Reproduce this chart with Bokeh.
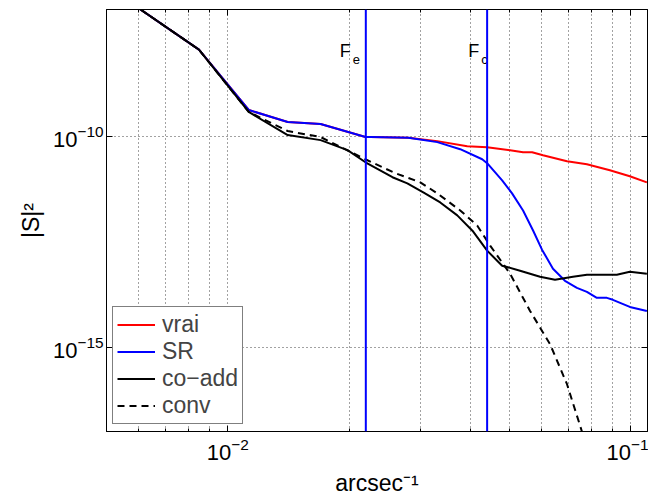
from bokeh.plotting import figure
from bokeh.models import (LogAxis, FixedTicker, Span, Legend, LegendItem, ColumnDataSource,
                          CustomJSTickFormatter)
from bokeh.core.properties import value
from bokeh.embed import file_html
from bokeh.resources import INLINE

# ---- data ----
freq_sr = [0.00543, 0.00602, 0.00848, 0.01127, 0.01408, 0.01699, 0.02196, 0.02259, 0.02805,
           0.03310, 0.03773, 0.04277, 0.04400, 0.04794, 0.05074, 0.05403, 0.05721, 0.06020,
           0.06410, 0.06864, 0.07349, 0.07781, 0.08236, 0.08720, 0.09025, 0.09943, 0.1096]
sr = [2.04e-7, 1.06e-7, 1.117e-8, 4.16e-10, 2.15e-10, 1.93e-10, 9.5e-11, 9.5e-11, 9.1e-11,
      7.2e-11, 4.9e-11, 2.83e-11, 2.28e-11, 8.96e-12, 4.40e-12, 1.73e-12, 5.78e-13, 2.04e-13,
      7.2e-14, 3.73e-14, 2.54e-14, 2.04e-14, 1.47e-14, 1.47e-14, 1.32e-14, 8.96e-15, 7.2e-15]

freq_vrai = [0.00543, 0.00602, 0.00848, 0.01127, 0.01408, 0.01699, 0.02196, 0.02259, 0.02805,
             0.03310, 0.03927, 0.04400, 0.05017, 0.05403, 0.05689, 0.06055, 0.06945, 0.07781,
             0.08872, 0.09943, 0.1096]
vrai = [2.04e-7, 1.06e-7, 1.117e-8, 4.16e-10, 2.15e-10, 1.93e-10, 9.5e-11, 9.5e-11, 9.1e-11,
        7.6e-11, 5.78e-11, 5.47e-11, 4.64e-11, 4.16e-11, 4.16e-11, 3.53e-11, 2.54e-11, 2.15e-11,
        1.55e-11, 1.12e-11, 8.03e-12]

freq_coadd = [0.00543, 0.00602, 0.00848, 0.01127, 0.01408, 0.01699, 0.01982, 0.02196, 0.02562,
              0.02789, 0.03055, 0.03366, 0.03710, 0.04063, 0.04400, 0.04794, 0.05311, 0.05953,
              0.06484, 0.07185, 0.07781, 0.09232, 0.09943, 0.1096]
coadd = [2.04e-7, 1.06e-7, 1.117e-8, 3.73e-10, 1.06e-10, 8.03e-11, 4.64e-11, 2.40e-11, 1.06e-11,
         7.6e-12, 4.64e-12, 2.68e-12, 1.32e-12, 5.47e-13, 1.93e-13, 8.5e-14, 6.45e-14, 4.64e-14,
         3.94e-14, 4.64e-14, 5.18e-14, 5.18e-14, 6.1e-14, 5.47e-14]

freq_conv = [0.00543, 0.00602, 0.00848, 0.01127, 0.01408, 0.01699, 0.01799, 0.02221, 0.02604,
             0.03003, 0.03310, 0.03773, 0.04157, 0.04477, 0.05017, 0.05623, 0.06302, 0.06945,
             0.07562, 0.0815]
conv = [2.04e-7, 1.06e-7, 1.117e-8, 3.73e-10, 1.32e-10, 9.5e-11, 7.2e-11, 2.68e-11, 1.32e-11,
        8.03e-12, 4.40e-12, 1.73e-12, 7.6e-13, 2.54e-13, 5.47e-14, 7.2e-15, 1.18e-15, 1.32e-16,
        1.0e-17, 1.1e-18]

cutoffs = [0.022, 0.044]          # F_e, F_c
cutoff_names = ["F", "F"]
cutoff_subs = ["e", "c"]
cutoff_label_y = [1.06e-8, 1.06e-8]

x_major = [0.01, 0.1]
x_minor = [0.005, 0.006, 0.007, 0.008, 0.009, 0.02, 0.03, 0.04, 0.05, 0.06, 0.07, 0.08, 0.09]
y_major = [1e-15, 1e-10]

FONT = "Liberation Sans"

p = figure(width=648, height=499, x_axis_type="log", y_axis_type="log",
           x_range=(0.005, 0.11), y_range=(1e-17, 1e-7),
           output_backend="svg", toolbar_location=None,
           min_border_left=106, min_border_right=1, min_border_top=9, min_border_bottom=68)
p.background_fill_color = "white"
p.border_fill_color = "white"
p.outline_line_color = "black"
p.outline_line_width = 1

xt = FixedTicker(ticks=x_major, minor_ticks=x_minor)
yt = FixedTicker(ticks=y_major, minor_ticks=[])

for ax in p.xaxis:
    ax.ticker = xt
for ax in p.yaxis:
    ax.ticker = yt

for ax in list(p.xaxis) + list(p.yaxis):
    ax.major_tick_in = 6
    ax.major_tick_out = 0
    ax.minor_tick_in = 3
    ax.minor_tick_out = 0
    ax.axis_line_color = "black"
    ax.major_tick_line_color = "black"
    ax.minor_tick_line_color = "black"
    ax.major_label_text_font = FONT
    ax.major_label_text_font_size = "22px"
    ax.major_label_text_color = "black"
    ax.axis_label_text_font = FONT
    ax.axis_label_text_font_size = "23px"
    ax.axis_label_text_font_style = "normal"
    ax.axis_label_text_color = "black"

p.xaxis.axis_label = "arcsec⁻¹"
p.yaxis.axis_label = "|S|²"
p.xaxis.major_label_standoff = 6
p.yaxis.major_label_standoff = 3
p.xaxis.axis_label_standoff = 7
p.yaxis.axis_label_standoff = 6

# mirrored ticks on top and right (no labels)
top = LogAxis(ticker=FixedTicker(ticks=x_major, minor_ticks=x_minor),
              formatter=CustomJSTickFormatter(code="return ''"),
              major_label_standoff=0,
              major_tick_in=6, major_tick_out=0, minor_tick_in=3, minor_tick_out=0,
              axis_line_color="black")
right = LogAxis(ticker=FixedTicker(ticks=y_major, minor_ticks=[]),
                formatter=CustomJSTickFormatter(code="return ''"),
                major_label_standoff=0,
                major_tick_in=6, major_tick_out=0, minor_tick_in=0, minor_tick_out=0,
                axis_line_color="black")
p.add_layout(top, "above")
p.add_layout(right, "right")

# grids
for g in (p.xgrid, p.ygrid):
    g.grid_line_color = "#444444"
    g.grid_line_dash = "1 3"
    g.grid_line_width = 1
p.xgrid.minor_grid_line_color = "#444444"
p.xgrid.minor_grid_line_dash = "1 3"

# cutoff lines
for c in cutoffs:
    p.add_layout(Span(location=c, dimension="height", line_color="#0000ff", line_width=2))

r_vrai = p.line(freq_vrai, vrai, line_color="#ff0000", line_width=2)
r_sr = p.line(freq_sr, sr, line_color="#0000ff", line_width=2)
r_co = p.line(freq_coadd, coadd, line_color="black", line_width=2)
r_conv = p.line(freq_conv, conv, line_color="black", line_width=2, line_dash="7 5")

src = ColumnDataSource(dict(x=cutoffs, y=cutoff_label_y, t=cutoff_names, off=[-26, -19]))
p.text(x="x", y="y", text="t", source=src, x_offset="off", text_font=value(FONT),
       text_font_size="18px", text_baseline="alphabetic", text_align="left", text_color="black")
src2 = ColumnDataSource(dict(x=cutoffs, y=cutoff_label_y, t=cutoff_subs, off=[-13, -6]))
p.text(x="x", y="y", text="t", source=src2, x_offset="off", y_offset=9, text_font=value(FONT),
       text_font_size="13px", text_baseline="alphabetic", text_align="left", text_color="black")

legend = Legend(items=[LegendItem(label="vrai", renderers=[r_vrai]),
                       LegendItem(label="SR", renderers=[r_sr]),
                       LegendItem(label="co−add", renderers=[r_co]),
                       LegendItem(label="conv", renderers=[r_conv])],
                location=(6, 7), margin=0, padding=4, spacing=0,
                glyph_width=38, glyph_height=27, label_height=27, label_standoff=7,
                label_text_font=FONT, label_text_font_size="23px",
                border_line_color="black", border_line_width=1,
                background_fill_color="white", background_fill_alpha=1)
p.add_layout(legend)

open("out.html", "w").write(file_html(p, INLINE))
